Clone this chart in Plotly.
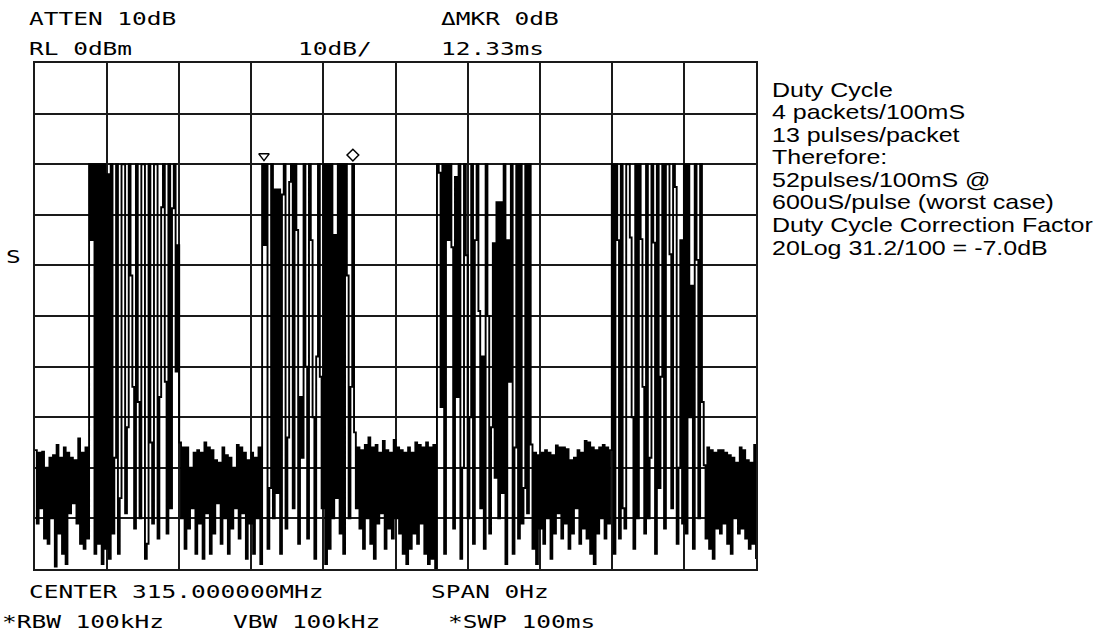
import plotly.graph_objects as go

SWEEP_MS = 100.0          # *SWP 100ms, zero span
REF_LEVEL_DB = 0          # RL 0dBm
DB_PER_DIV = 10           # 10dB/
N_DIV = 10

noise0 = [-76.5, -91, -77, -88, -76.8, -94, -80, -95, -78, -90,
          -77.5, -99.5, -75.5, -93, -78, -97, -76, -99, -77, -89,
          -78, -87, -78.5, -91, -74.2, -95, -77, -96, -76, -94]
packet1 = [-20, -35, -20, -97, -20, -95, -20, -99, -20, -96,
           -22, -98, -20, -93, -78, -20, -97, -86, -20, -20,
           -89, -72, -20, -42, -64, -92, -20, -67, -90, -20,
           -20, -98, -95, -20, -75, -91, -20, -20, -94, -66,
           -28.5, -20, -63, -93, -20, -88, -28.7, -20, -61, -36]
noise1 = [-75, -90, -76, -96, -76, -92, -80, -88, -77, -97,
          -76.5, -91, -77, -98, -75, -89, -76, -97, -76.5, -93,
          -78.5, -87, -79, -95, -76, -90, -77.5, -97, -78, -92,
          -80, -88, -75.5, -94, -76, -89, -77, -98, -78.5, -91,
          -77, -97, -78, -90, -76, -99]
packet2 = [-20, -36, -20, -96, -84, -20, -90, -25, -85, -25,
           -97, -26, -20, -92, -74, -23.5, -20, -88, -20, -33,
           -95, -66, -78, -20, -60, -94, -20, -35, -70, -98,
           -58, -20, -62, -88, -20, -99, -20, -96, -20, -90,
           -34, -86, -20, -93, -20, -97, -20, -42, -90, -64, -20]
noise2 = [-73, -88, -76, -92, -76.5, -96, -75.5, -90, -74, -95,
          -76, -98, -75.5, -91, -77, -89, -74.7, -96, -76.5, -92,
          -77, -94, -74.5, -90, -76, -93, -76.5, -97, -77, -99,
          -76, -96, -77, -93, -75, -95, -75.5, -91, -76, -97,
          -75, -99, -76, -98, -75.5, -100]
packet3 = [-20, -21.7, -68, -20, -97, -20, -35, -20, -36.4, -92,
           -22.5, -66, -20, -98, -80, -20, -38, -90, -70, -20,
           -95, -35, -20, -49, -88, -58, -96, -20, -50, -93,
           -72, -35.6, -82, -27.5, -90, -27.5, -85, -20, -99, -35,
           -63, -20, -97, -76, -20, -94, -20, -91, -84, -20,
           -89, -20]
noise3 = [-75.4, -96, -77, -99, -77.5, -92, -77, -95, -76.5, -90,
          -77, -98, -77.5, -93, -75.6, -89, -76, -94, -76, -91,
          -76.3, -96, -78.5, -93, -78, -88, -76.5, -95, -77, -92,
          -74.7, -94, -75, -97, -76, -99, -76.5, -93, -76, -90,
          -75.5, -94, -76, -91, -76.5]
packet4 = [-20, -97, -20, -35, -94, -20, -88, -92, -20, -20,
           -34.5, -70, -96, -20, -90, -20, -34.8, -64, -93, -20,
           -90, -78, -20, -35.5, -97, -20, -84, -62, -20, -92,
           -20, -20, -37.8, -88, -20, -24.5, -95, -80, -35, -91,
           -20, -93, -20, -70, -44, -96, -20, -38.9, -90, -20, -67]
noise4 = [-79.5, -94, -76, -96, -76.5, -98, -77, -92, -76.5, -93,
          -76.5, -91, -77, -95, -77.5, -97, -78, -90, -79, -93,
          -76, -92, -76.5, -94, -78.5, -96, -79, -95, -75.5, -98]

marker_ms = [31.76, 44.09]          # delta marker 12.33 ms
marker_db = [-18.4, -18.2]
marker_symbols = ["triangle-down-open", "diamond-open"]

header_labels = ["ATTEN 10dB", "RL 0dBm", "10dB/", "\u0394MKR 0dB", "12.33ms",
                 "CENTER 315.000000MHz", "SPAN 0Hz",
                 "*RBW 100kHz", "VBW 100kHz", "*SWP 100ms", "S"]
note_lines = ["Duty Cycle", "4 packets/100mS", "13 pulses/packet", "Therefore:",
              "52pulses/100mS @", "600uS/pulse (worst case)",
              "Duty Cycle Correction Factor", "20Log 31.2/100 = -7.0dB"]

# ---------------- build ----------------
trace_db = noise0 + packet1 + noise1 + packet2 + noise2 + packet3 + noise3 + packet4 + noise4
n = len(trace_db)
time_ms = [i * SWEEP_MS / (n - 1) for i in range(n)]

W, H = 1104, 639
PX_L, PX_R, PX_T, PX_B = 35, 756, 63, 569


def fx(px):
    return (px - PX_L) / (PX_R - PX_L)


def fy(py):
    return (PX_B - py) / (PX_B - PX_T)


# layout positions of the screen annotations (pixels)
header_pos = [(27, 18), (27, 49), (296, 49), (439, 18), (439, 49),
              (27, 591), (429, 591),
              (0, 621), (231, 621), (446, 621), (4, 256)]
note_x = 770
note_y0, note_dy = 89, 22.6

fig = go.Figure()
fig.add_trace(go.Scatter(
    x=time_ms, y=trace_db, mode="lines",
    line=dict(color="black", width=1.9, shape="hv", simplify=False),
    hoverinfo="skip", showlegend=False))
fig.add_trace(go.Scatter(
    x=marker_ms, y=marker_db, mode="markers",
    marker=dict(symbol=marker_symbols, size=9, color="black",
                line=dict(color="black", width=1.5)),
    hoverinfo="skip", showlegend=False, cliponaxis=False))

annotations = []
for txt, (px, py) in zip(header_labels, header_pos):
    annotations.append(dict(
        text=txt, xref="paper", yref="paper", x=fx(px), y=fy(py),
        xanchor="left", yanchor="middle", align="left", showarrow=False,
        font=dict(family="DejaVu Sans Mono", size=18, color="black")))
for k, txt in enumerate(note_lines):
    annotations.append(dict(
        text=txt, xref="paper", yref="paper", x=fx(note_x), y=fy(note_y0 + k * note_dy),
        xanchor="left", yanchor="middle", align="left", showarrow=False,
        font=dict(family="Liberation Sans", size=21, color="black")))

y_bottom = REF_LEVEL_DB - DB_PER_DIV * N_DIV
fig.update_layout(
    width=W, height=H, autosize=False,
    margin=dict(l=PX_L, r=W - PX_R, t=PX_T, b=H - PX_B, pad=0),
    paper_bgcolor="white", plot_bgcolor="white",
    font=dict(family="Liberation Sans", color="black"),
    annotations=annotations,
    xaxis=dict(range=[0, SWEEP_MS], dtick=SWEEP_MS / N_DIV, tick0=0,
               showgrid=True, gridcolor="#1a1a1a", gridwidth=2,
               showline=True, mirror=True, linecolor="#1a1a1a", linewidth=2,
               showticklabels=False, ticks="", zeroline=False, fixedrange=True),
    yaxis=dict(range=[y_bottom, REF_LEVEL_DB], dtick=DB_PER_DIV, tick0=0,
               showgrid=True, gridcolor="#1a1a1a", gridwidth=2,
               showline=True, mirror=True, linecolor="#1a1a1a", linewidth=2,
               showticklabels=False, ticks="", zeroline=False, fixedrange=True),
)

post = """
(function(){
  document.body.style.margin = '0';
  document.body.style.padding = '0';
  function fix(){
    document.querySelectorAll('text.annotation-text').forEach(function(t){
      var ff = (t.style.fontFamily || '');
      var s = 1;
      if (ff.indexOf('Mono') >= 0) { s = 1.36; }
      else if (ff.indexOf('Liberation') >= 0) { s = 1.19; }
      if (s !== 1) {
        t.style.transformBox = 'fill-box';
        t.style.transformOrigin = '0% 50%';
        t.style.transform = 'scaleX(' + s + ')';
      }
    });
  }
  fix(); setTimeout(fix, 50); setTimeout(fix, 300);
  var gd = document.getElementById('{plot_id}');
  if (gd && gd.on) { gd.on('plotly_afterplot', fix); }
})();
"""

fig.write_html("out.html", config={"displayModeBar": False, "staticPlot": True},
               post_script=post)
